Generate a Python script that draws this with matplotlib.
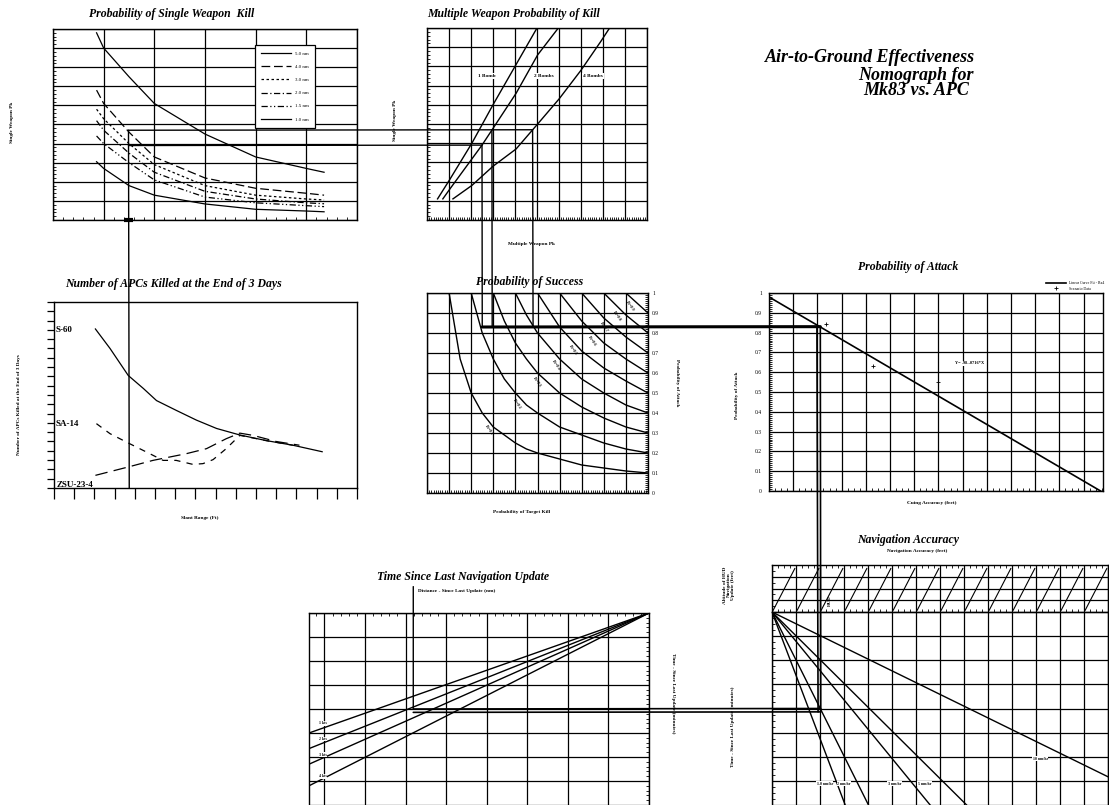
import matplotlib
matplotlib.use('Agg')
import matplotlib.pyplot as plt
import numpy as np
from matplotlib.patches import ConnectionPatch

plt.rcParams['font.family'] = ['Liberation Serif', 'DejaVu Serif']

W, H = 1109, 805

# ---- Probability of Single Weapon Kill (slant range vs single Pk)
slant_pts = [0.86, 1.0, 1.5, 2.0, 3.0, 4.0, 5.0, 5.35]
pk_c1 = [0.98, 0.90, 0.75, 0.61, 0.45, 0.33, 0.27, 0.25]
pk_c2 = [0.68, 0.61, 0.46, 0.33, 0.22, 0.166, 0.14, 0.13]
pk_c3 = [0.58, 0.53, 0.40, 0.29, 0.18, 0.13, 0.11, 0.105]
pk_c4 = [0.52, 0.47, 0.35, 0.25, 0.15, 0.11, 0.09, 0.085]
pk_c5 = [0.44, 0.40, 0.30, 0.21, 0.12, 0.09, 0.075, 0.07]
pk_c6 = [0.305, 0.27, 0.18, 0.13, 0.084, 0.056, 0.047, 0.043]
pk_labels = ["5.0 nm", "4.0 nm", "3.0 nm", "2.0 nm", "1.5 nm", "1.0 nm"]

# ---- Multiple Weapon Probability of Kill
bomb1_x = [0.048, 0.103, 0.204, 0.30, 0.405, 0.50]
bomb1_y = [0.11, 0.21, 0.40, 0.60, 0.81, 1.0]
bomb2_x = [0.072, 0.103, 0.25, 0.405, 0.503, 0.597]
bomb2_y = [0.11, 0.16, 0.39, 0.66, 0.86, 1.0]
bomb4_x = [0.118, 0.204, 0.30, 0.405, 0.503, 0.60, 0.70, 0.79, 0.83]
bomb4_y = [0.11, 0.18, 0.28, 0.37, 0.50, 0.63, 0.78, 0.93, 1.0]
bomb_names = ["1 Bomb", "2 Bombs", "4 Bombs"]
bomb_label_x = [0.27, 0.53, 0.755]

# ---- Number of APCs killed at the end of 3 days
s60_x = [0.82, 1.11, 1.47, 1.77, 2.03, 2.42, 2.82, 3.22, 3.68, 4.2, 4.73, 5.31]
s60_y = [17.1, 15.0, 12.1, 10.7, 9.4, 8.35, 7.3, 6.4, 5.7, 5.1, 4.6, 3.9]
sa14_x = [0.84, 1.11, 1.47, 1.83, 2.16, 2.42, 2.75, 2.95, 3.15, 3.41, 3.68, 4.2, 4.73]
sa14_y = [6.92, 5.84, 4.84, 3.87, 2.97, 2.97, 2.54, 2.62, 3.05, 4.23, 5.66, 5.1, 4.6]
zsu_x = [0.82, 1.47, 1.96, 2.62, 3.02, 3.41, 3.68, 3.94, 4.4, 4.86]
zsu_y = [1.36, 2.26, 2.97, 3.69, 4.23, 5.3, 5.9, 5.66, 5.0, 4.6]

# ---- Probability of Success (Pa vs Pk iso-lines)
pk_pts = [0.1, 0.15, 0.2, 0.25, 0.3, 0.35, 0.4, 0.45, 0.5, 0.6, 0.7, 0.8, 0.9, 1.0]
ps_values = [0.1, 0.2, 0.3, 0.4, 0.5, 0.6, 0.7, 0.8, 0.9]
pa_ps1 = [1.0, 0.67, 0.5, 0.4, 0.33, 0.29, 0.25, 0.22, 0.2, 0.17, 0.14, 0.125, 0.11, 0.1]
pa_ps2 = [1.0, 0.8, 0.67, 0.57, 0.5, 0.44, 0.4, 0.33, 0.29, 0.25, 0.22, 0.2]
pa_ps3 = [1.0, 0.86, 0.75, 0.67, 0.6, 0.5, 0.43, 0.375, 0.33, 0.3]
pa_ps4 = [1.0, 0.89, 0.8, 0.67, 0.57, 0.5, 0.44, 0.4]
pa_ps5 = [1.0, 0.83, 0.71, 0.625, 0.56, 0.5]
pa_ps6 = [1.0, 0.86, 0.75, 0.67, 0.6]
pa_ps7 = [1.0, 0.875, 0.78, 0.7]
pa_ps8 = [1.0, 0.89, 0.8]
pa_ps9 = [1.0, 0.9]
ps_label_x = [0.28, 0.41, 0.5, 0.585, 0.66, 0.745, 0.80, 0.86, 0.92]
prob_ticks = [0, 0.1, 0.2, 0.3, 0.4, 0.5, 0.6, 0.7, 0.8, 0.9, 1.0]
prob_labels = ["0", "0.1", "0.2", "0.3", "0.4", "0.5", "0.6", "0.7", "0.8", "0.9", "1"]

# ---- Probability of Attack (cuing accuracy)
cue_fit = [0.0, 13.7]
pa_fit = [0.98, 0.0]
cue_pts = [2.34, 4.3, 7.0]
pa_pts = [0.845, 0.63, 0.55]

# ---- Time since last navigation update
dist_x = [-0.38, 8.0]
time_start = [5.0, 5.65, 6.3, 7.2]
drift_labels = ["1 kts", "2 kts", "3 kts", "4 kts"]

# ---- Navigation accuracy fan
nav_end_x = [3.05, 4.02, 6.59, 8.11, 14.0]
nav_end_t = [8.0, 8.0, 8.0, 8.0, 6.83]
nav_labels = ["1.0 nm/hr", "2 nm/hr", "3 nm/hr", "5 nm/hr", "10 nm/hr"]

# ---- worked example path through the nomograph
slant_pick = 1.49
pk_pick = [0.47, 0.39]
mpk_pick = [0.48, 0.295, 0.25]
mpk_from = [0.47, 0.47, 0.39]
pa_pick = 0.83
cue_pick = [1.98, 2.12]
nav_pick = [1.92, 2.03]
time_pick = [4.0, 4.14]
dist_pick = 2.19


def rect(l, t, r, b):
    return [l / W, 1 - b / H, (r - l) / W, (b - t) / H]


def ftext(x, y, s, **kw):
    kw.setdefault('ha', 'center')
    kw.setdefault('va', 'center')
    fig.text(x / W, 1 - y / H, s, **kw)


title_kw = dict(fontsize=8.5, fontweight='bold', style='italic')
small_kw = dict(fontsize=3.8, fontweight='bold')


def style_grid(ax):
    ax.grid(which='major', color='black', lw=0.9)
    ax.tick_params(which='both', direction='in', labelbottom=False, labelleft=False,
                   color='black', width=0.6)
    ax.tick_params(which='major', length=0)
    ax.tick_params(which='minor', length=2.5)
    for s in ax.spines.values():
        s.set_linewidth(1.0)


fig = plt.figure(figsize=(11.09, 8.05), dpi=100)

# Panel 1
ax1 = fig.add_axes(rect(53, 29, 357, 220))
ax1.set_xlim(0, 6)
ax1.set_ylim(0, 1)
ax1.set_xticks(np.arange(0, 7, 1))
ax1.set_xticks(np.arange(0, 6.01, 0.2), minor=True)
ax1.set_yticks(np.arange(0, 1.01, 0.1))
ax1.set_yticks(np.arange(0, 1.001, 0.02), minor=True)
style_grid(ax1)
styles = ['-', (0, (7, 3)), (0, (2, 2)), (0, (5, 2, 1, 2)), (0, (5, 2, 1, 2, 1, 2)), '-']
for vals, ls, lab in zip([pk_c1, pk_c2, pk_c3, pk_c4, pk_c5, pk_c6], styles, pk_labels):
    ax1.plot(slant_pts, vals, color='black', lw=0.9, ls=ls, label=lab)
leg = ax1.legend(loc='upper left', bbox_to_anchor=(0.665, 0.916), fontsize=3.5,
                 handlelength=6, labelspacing=1.8, borderpad=1.3, fancybox=False,
                 framealpha=1, edgecolor='black', borderaxespad=0)
leg.get_frame().set_linewidth(0.9)
leg.set_zorder(5)
ax1.plot([slant_pick - 0.09, slant_pick + 0.09], [0, 0], color='black', lw=3,
         clip_on=False, solid_capstyle='butt')
ftext(172, 14, "Probability of Single Weapon  Kill", **title_kw)
ftext(12, 122, "Single Weapon Pk", rotation=90, **small_kw)
ftext(395, 120, "Single Weapon Pk", rotation=90, **small_kw)

# Panel 2
ax2 = fig.add_axes(rect(427, 28, 647, 220))
ax2.set_xlim(0, 1)
ax2.set_ylim(0, 1)
ax2.set_xticks(np.arange(0, 1.01, 0.1))
ax2.set_xticks(np.arange(0, 1.001, 0.01), minor=True)
ax2.set_yticks(np.arange(0, 1.01, 0.1))
ax2.set_yticks(np.arange(0, 1.001, 0.02), minor=True)
style_grid(ax2)
for bx, by in [(bomb1_x, bomb1_y), (bomb2_x, bomb2_y), (bomb4_x, bomb4_y)]:
    ax2.plot(bx, by, color='black', lw=1.0)
for name, lx in zip(bomb_names, bomb_label_x):
    ax2.text(lx, 0.75, name, ha='center', va='center', zorder=4,
             bbox=dict(facecolor='white', edgecolor='none', pad=0.6), **small_kw)
ftext(514, 14, "Multiple Weapon Probability of Kill", **title_kw)
ftext(531, 244, "Multiple Weapon Pk", **small_kw)

# Panel 3
ax3 = fig.add_axes(rect(54, 302, 357, 488))
ax3.set_xlim(0, 6)
ax3.set_ylim(0, 20)
ax3.set_xticks(np.arange(0, 6.01, 0.4))
ax3.set_yticks(np.arange(0, 20.01, 1))
ax3.tick_params(direction='out', labelbottom=False, labelleft=False, width=0.9)
ax3.tick_params(axis='x', length=8)
ax3.tick_params(axis='y', length=5)
for s in ax3.spines.values():
    s.set_linewidth(1.0)
ax3.plot(s60_x, s60_y, color='black', lw=0.9)
ax3.plot(sa14_x, sa14_y, color='black', lw=0.9, ls=(0, (5, 5)))
ax3.plot(zsu_x, zsu_y, color='black', lw=0.9, ls=(0, (10, 5)))
lab3 = dict(fontsize=6.5, fontweight='bold', ha='left', va='center')
ax3.text(0.03, 17.0, "S-60", **lab3)
ax3.text(0.03, 6.9, "SA-14", **lab3)
ax3.text(0.05, 0.35, "ZSU-23-4", **lab3)
ftext(173, 284, "Number of APCs Killed at the End of 3 Days", **title_kw)
ftext(19, 405, "Number of APCs Killed at the End of 3 Days", rotation=90, **small_kw)
ftext(200, 518, "Slant Range (Ft)", **small_kw)

# Panel 4
ax4 = fig.add_axes(rect(427, 293, 648, 493))
ax4.set_xlim(0, 1)
ax4.set_ylim(0, 1)
ax4.set_xticks(np.arange(0, 1.01, 0.1))
ax4.set_xticks(np.arange(0, 1.001, 0.01), minor=True)
ax4.set_yticks(prob_ticks)
ax4.set_yticks(np.arange(0, 1.001, 0.01), minor=True)
style_grid(ax4)
ax4.yaxis.tick_right()
ax4.set_yticklabels(prob_labels)
ax4.tick_params(axis='y', labelright=True, labelsize=4, pad=3)
for ps, pa in zip(ps_values, [pa_ps1, pa_ps2, pa_ps3, pa_ps4, pa_ps5, pa_ps6,
                              pa_ps7, pa_ps8, pa_ps9]):
    ax4.plot(pk_pts[-len(pa):], pa, color='black', lw=1.0)
for ps, lx in zip(ps_values, ps_label_x):
    ax4.text(lx, ps / lx - 0.045, "Ps=%.1f" % ps, rotation=-55, ha='center', va='center',
             fontsize=3, fontweight='bold')
ftext(530, 282, "Probability of Success", **title_kw)
ftext(522, 512, "Probability of Target Kill", **small_kw)
ftext(677, 383, "Probability of Attack", rotation=270, **small_kw)

# Panel 6
ax6 = fig.add_axes(rect(769, 293, 1103, 491))
ax6.set_xlim(0, 13.8)
ax6.set_ylim(0, 1)
ax6.set_xticks(np.arange(0, 14, 1))
ax6.set_xticks(np.arange(0, 13.8, 0.25), minor=True)
ax6.set_yticks(prob_ticks)
ax6.set_yticks(np.arange(0, 1.001, 0.01), minor=True)
style_grid(ax6)
ax6.set_yticklabels(prob_labels)
ax6.tick_params(axis='y', labelleft=True, labelsize=4, pad=5)
ax6.plot(cue_fit, pa_fit, color='black', lw=1.2, label="Linear Curve Fit - Ba4")
ax6.plot(cue_pts, pa_pts, ls='none', marker='+', ms=3, mew=0.6, color='black',
         label="Scenario Data")
ax6.legend(loc='lower right', bbox_to_anchor=(1.01, 1.0), fontsize=2.8, frameon=False,
           handlelength=5, borderaxespad=0.2, labelspacing=0.3)
ax6.text(8.3, 0.645, "Y= .98-.0716*X", ha='center', va='center', zorder=4,
         bbox=dict(facecolor='white', edgecolor='none', pad=0.5), fontsize=3.2,
         fontweight='bold')
ftext(908, 267, "Probability of Attack", **title_kw)
ftext(932, 503, "Cuing Accuracy (feet)", **small_kw)
ftext(737, 395, "Probability of Attack", rotation=90, **small_kw)

# Panel 7
ax7 = fig.add_axes(rect(309, 613, 649, 805))
ax7.set_xlim(-0.38, 8)
ax7.set_ylim(8, 0)
ax7.set_xticks(np.arange(0, 9, 1))
ax7.set_xticks(np.arange(-0.2, 8.01, 0.2), minor=True)
ax7.set_yticks(np.arange(0, 9, 1))
ax7.set_yticks(np.arange(0, 8.01, 0.2), minor=True)
style_grid(ax7)
ax7.xaxis.tick_top()
ax7.yaxis.tick_right()
ax7.tick_params(labeltop=False, labelright=False)
ax7.spines['bottom'].set_visible(False)
for t0, lab in zip(time_start, drift_labels):
    ax7.plot(dist_x, [t0, 0], color='black', lw=1.0)
    ax7.text(dist_x[0] + 0.25, t0 - 0.4, lab, ha='left', va='center', fontsize=2.8,
             fontweight='bold', zorder=4,
             bbox=dict(facecolor='white', edgecolor='none', pad=0.3))
ftext(463, 577, "Time Since Last Navigation Update", **title_kw)
ftext(418, 591, "Distance - Since Last Update (nm)", ha='left', **small_kw)
ftext(673, 693, "Time - Since Last Update (minutes)", rotation=270, **small_kw)

# Panel 8 (hatched altitude strip + fan)
ax8a = fig.add_axes(rect(772, 565, 1108, 612))
ax8a.set_xlim(0, 14)
ax8a.set_ylim(0, 4)
ax8a.set_xticks(np.arange(0, 15, 1))
ax8a.set_xticks(np.arange(0, 14.01, 0.25), minor=True)
ax8a.set_yticks([1, 2, 3])
ax8a.set_yticks(np.arange(0, 4.01, 0.5), minor=True)
style_grid(ax8a)
ax8a.xaxis.set_ticks_position('both')
for i in ax8a.get_xticks()[:-1]:
    ax8a.plot([i + 0.05, i + 0.95], [0.15, 3.7], color='black', lw=0.8)
ax8a.text(2.4, 1.0, "HUD", rotation=90, ha='center', va='center', fontsize=3.5,
          fontweight='bold')

ax8b = fig.add_axes(rect(772, 612, 1108, 805))
ax8b.set_xlim(0, 14)
ax8b.set_ylim(8, 0)
ax8b.set_xticks(np.arange(0, 15, 1))
ax8b.set_yticks(np.arange(0, 9, 1))
ax8b.set_yticks(np.arange(0, 8.01, 0.25), minor=True)
style_grid(ax8b)
ax8b.spines['bottom'].set_visible(False)
for ex, et in zip(nav_end_x, nav_end_t):
    ax8b.plot([0, ex], [0, et], color='black', lw=1.0)
for ex, et, lab in zip(nav_end_x, nav_end_t, nav_labels):
    ax8b.text(ex * 0.82 - 0.3, et * 0.89, lab, ha='center', va='center', fontsize=2.8,
              fontweight='bold', zorder=4,
              bbox=dict(facecolor='white', edgecolor='none', pad=0.3))
ftext(908, 540, "Navigation Accuracy", **title_kw)
ftext(917, 551, "Navigation Accuracy (feet)", **small_kw)
ftext(729, 585, "Altitude of HUD\nNavigation\nUpdate (feet)", rotation=90,
      linespacing=1.1, **small_kw)
ftext(733, 727, "Time - Since Last Update (minutes)", rotation=90, **small_kw)

# Main title
main_kw = dict(fontsize=13, fontweight='bold', style='italic')
ftext(870, 57, "Air-to-Ground Effectiveness", **main_kw)
ftext(916, 67, "Nomograph for\nMk83 vs. APC", va='top', linespacing=0.85, **main_kw)


def connect(axA, xyA, axB, xyB, lw=1.0):
    con = ConnectionPatch(xyA=xyA, coordsA=axA.transData, xyB=xyB,
                          coordsB=axB.transData, color='black', lw=lw)
    con.set_zorder(6)
    fig.add_artist(con)


# reading path
connect(ax3, (slant_pick, 0), ax1, (slant_pick, pk_pick[0]))
connect(ax1, (slant_pick, pk_pick[0]), ax2, (mpk_pick[0], pk_pick[0]))
connect(ax1, (slant_pick, pk_pick[1]), ax2, (mpk_pick[2], pk_pick[1]))
for mx, my in zip(mpk_pick, mpk_from):
    connect(ax2, (mx, my), ax4, (mx, pa_pick))
connect(ax4, (mpk_pick[2], pa_pick), ax6, (cue_pick[1], pa_pick), lw=2.2)
for cx, nx in zip(cue_pick, nav_pick):
    connect(ax6, (cx, pa_pick), ax8b, (nx, time_pick[1]), lw=1.2)
for tp in time_pick:
    connect(ax8b, (nav_pick[1], tp), ax7, (dist_pick, tp), lw=1.2)
connect(ax7, (dist_pick, time_pick[0]), ax7, (dist_pick, -1.1))

fig.savefig('out.png', dpi=100, facecolor='white')
